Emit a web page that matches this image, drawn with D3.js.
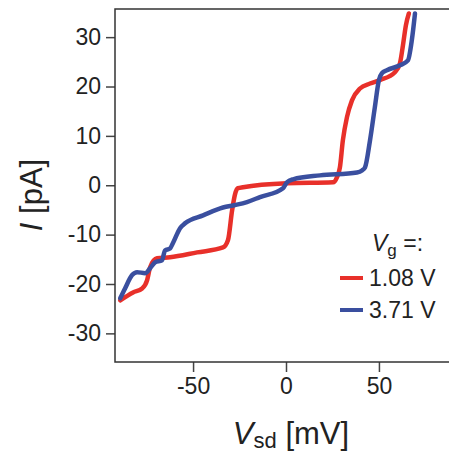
<!DOCTYPE html>
<html>
<head>
<meta charset="utf-8">
<script src="https://cdn.jsdelivr.net/npm/d3@7"></script>
<style>
  body { margin: 0; background: #fff; }
  svg { display: block; font-family: "Liberation Sans", Arial, sans-serif; }
</style>
</head>
<body>
<svg id="chart" width="449" height="455"></svg>
<script>
// gate voltages (legend)
const seriesNames = ["1.08 V", "3.71 V"];
const seriesColors = ["#e8302a", "#3a4f9f"];

// Vsd [mV] and I [pA]
const redVsd = [-89.2, -82.3, -77.4, -74.7, -73.1, -69.4, -62.4, -47.8, -33.9, -31.2, -29.0, -27.4, -25.8, -23.1, 0.5, 25.3, 27.4, 29.0, 30.6, 32.8, 35.5, 39.8, 45.2, 50.5, 58.6, 61.3, 62.9, 64.5, 66.1];
const redI   = [-23.3, -21.7, -20.9, -19.2, -16.6, -14.8, -14.6, -13.6, -12.6, -11.1, -5.1, -1.8, -0.6, -0.4, 0.4, 0.6, 1.6, 3.6, 9.1, 13.8, 17.2, 19.6, 20.6, 21.3, 22.9, 24.7, 28.3, 32.4, 34.8];

const blueVsd = [-89.2, -86.6, -82.8, -80.1, -75.8, -73.1, -70.4, -66.7, -65.1, -62.4, -60.8, -57.0, -54.3, -44.6, -33.9, -27.4, -21.0, -14.0, -1.6, 0.5, 3.8, 18.3, 38.2, 40.9, 42.5, 45.2, 47.8, 50.0, 51.6, 54.3, 61.3, 65.6, 67.7, 69.4];
const blueI   = [-22.9, -20.9, -18.2, -17.6, -17.8, -16.8, -15.6, -15.2, -13.2, -12.8, -11.7, -8.7, -7.7, -6.1, -4.5, -4.0, -3.4, -2.4, -0.6, 0.6, 1.2, 2.0, 2.6, 3.0, 3.6, 9.1, 15.8, 21.3, 22.7, 23.3, 24.3, 25.3, 29.4, 34.8];

const xTicks = [-50, 0, 50];
const yTicks = [-30, -20, -10, 0, 10, 20, 30];

const svg = d3.select("#chart");
const plotLeft = 115, plotTop = 9, plotBottom = 362;

let xScale = d3.scaleLinear().domain([-92, 92]).range([plotLeft, 457]);
let yScale = d3.scaleLinear().domain([-35.8, 35.7]).range([plotBottom, plotTop]);

svg.append("defs").append("clipPath").attr("id", "plotclip")
    .append("rect")
    .attr("x", plotLeft).attr("y", plotTop)
    .attr("width", 457 - plotLeft).attr("height", plotBottom - plotTop);

/// axes ///  (plain hyphen for negatives, like the original)
let yAxis = svg.append("g")
    .attr("transform", `translate(${plotLeft},0)`)
    .call(d3.axisLeft(yScale).tickValues(yTicks).tickSize(9).tickPadding(5)
        .tickFormat(d => String(d)));

let xAxis = svg.append("g")
    .attr("transform", `translate(0,${plotBottom})`)
    .call(d3.axisBottom(xScale).tickValues(xTicks).tickSize(10).tickPadding(6)
        .tickFormat(d => String(d)));

[xAxis, yAxis].forEach(ax => {
    ax.select(".domain").remove();
    ax.selectAll(".tick line").attr("stroke", "#444").attr("stroke-width", 1.5);
    ax.selectAll(".tick text")
        .attr("fill", "#222")
        .style("font-size", "23px")
        .style("font-family", "'Liberation Sans', Arial, sans-serif");
});

/// frame ///
svg.append("rect")
    .attr("x", plotLeft).attr("y", plotTop)
    .attr("width", 470 - plotLeft).attr("height", plotBottom - plotTop)
    .attr("fill", "none")
    .attr("stroke", "#333")
    .attr("stroke-width", 1.5);

/// curves ///
const line = d3.line()
    .x(d => xScale(d[0]))
    .y(d => yScale(d[1]))
    .curve(d3.curveMonotoneX);

const curves = [
    d3.zip(redVsd, redI),
    d3.zip(blueVsd, blueI)
];

svg.append("g")
    .attr("clip-path", "url(#plotclip)")
    .selectAll("path")
    .data(curves)
    .enter()
    .append("path")
    .attr("d", line)
    .attr("fill", "none")
    .attr("stroke", (d, i) => seriesColors[i])
    .attr("stroke-width", 4.5)
    .attr("stroke-linejoin", "round")
    .attr("stroke-linecap", "round");

/// legend ///
let legendTitle = svg.append("text")
    .attr("x", 372).attr("y", 251)
    .attr("fill", "#222")
    .style("font-size", "23px");
legendTitle.append("tspan").style("font-style", "italic").text("V");
legendTitle.append("tspan").attr("dy", 5).style("font-size", "17px").text("g");
legendTitle.append("tspan").attr("dy", -5).text(" =:");

seriesNames.forEach((name, i) => {
    let ly = 278 + i * 32;
    svg.append("line")
        .attr("x1", 340).attr("x2", 363)
        .attr("y1", ly).attr("y2", ly)
        .attr("stroke", seriesColors[i])
        .attr("stroke-width", 4);
    svg.append("text")
        .attr("x", 369).attr("y", ly + 8)
        .attr("fill", "#222")
        .style("font-size", "23px")
        .text(name);
});

/// axis titles ///
let xTitle = svg.append("text")
    .attr("x", 291).attr("y", 444)
    .attr("text-anchor", "middle")
    .attr("fill", "#222")
    .style("font-size", "31px");
xTitle.append("tspan").style("font-style", "italic").text("V");
xTitle.append("tspan").attr("dy", 4).style("font-size", "22px").text("sd");
xTitle.append("tspan").attr("dy", -4).text(" [mV]");

let yTitle = svg.append("text")
    .attr("transform", "translate(42,195) rotate(-90)")
    .attr("text-anchor", "middle")
    .attr("fill", "#222")
    .style("font-size", "31px");
yTitle.append("tspan").style("font-style", "italic").text("I");
yTitle.append("tspan").text(" [pA]");
</script>
</body>
</html>
